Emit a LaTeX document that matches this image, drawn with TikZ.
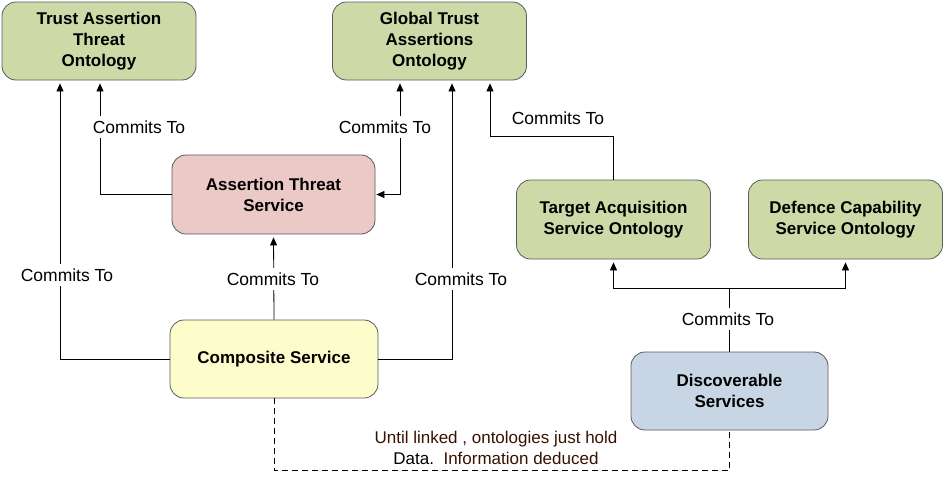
\documentclass[tikz,border=0pt]{standalone}
\usepackage{fontspec}
\setmainfont{Liberation Sans}
\usetikzlibrary{arrows.meta}
\definecolor{ongreen}{RGB}{205,218,168}
\definecolor{onpink}{RGB}{235,201,199}
\definecolor{onyellow}{RGB}{253,253,203}
\definecolor{onblue}{RGB}{200,213,228}
\definecolor{onborder}{RGB}{90,90,90}
\definecolor{notecol}{RGB}{55,18,0}
\tikzset{
  box/.style={draw=onborder, line width=0.8pt, rounded corners=14pt, align=center,
    font=\fontsize{17}{21}\selectfont\bfseries, inner sep=0pt},
  bigbox/.style={box, minimum width=194pt, minimum height=78pt},
  lbl/.style={fill=white, font=\fontsize{17.5}{20}\selectfont, inner xsep=6pt, inner ysep=5pt},
  conn/.style={line width=0.8pt, -{Triangle[length=8pt,width=7pt]}, shorten >=3pt},
  conn2/.style={line width=0.8pt, {Triangle[length=8pt,width=7pt]}-{Triangle[length=8pt,width=7pt]}, shorten >=1pt, shorten <=3pt},
  plain/.style={line width=0.8pt},
}
\begin{document}
\begin{tikzpicture}[x=1pt,y=-1pt]
\useasboundingbox (0,0) rectangle (945,488);
% nodes
\node[bigbox, fill=ongreen] (tat) at (99,41) {Trust Assertion\\Threat\\Ontology};
\node[bigbox, fill=ongreen] (gta) at (429.5,41) {Global Trust\\Assertions\\Ontology};
\node[box, fill=onpink, minimum width=203pt, minimum height=79pt] (ats) at (273.5,194.5) {Assertion Threat\\Service};
\node[bigbox, fill=ongreen, minimum height=79pt] (tas) at (613.5,219.5) {Target Acquisition\\Service Ontology};
\node[bigbox, fill=ongreen, minimum height=79pt] (dcs) at (845.5,219.5) {Defence Capability\\Service Ontology};
\node[box, fill=onyellow, minimum width=208pt, minimum height=78pt] (comp) at (274,359) {Composite Service};
\node[box, fill=onblue, minimum width=197pt, minimum height=78pt] (ds) at (729.5,391) {Discoverable\\Services};
% connectors
\draw[conn] (comp.west) -| ([xshift=-39pt]tat.south);
\draw[conn] (ats.west) -| ([xshift=1pt]tat.south);
\draw[conn2] ([xshift=-29.5pt]gta.south) |- (ats.east);
\draw[conn] (comp.north) -- (ats.south);
\draw[conn] (comp.east) -| ([xshift=22.5pt]gta.south);
\draw[conn] (tas.north) -- ++(0,-43) -| ([xshift=60.5pt]gta.south);
\draw[plain] (ds.north) -- ++(0,-63) coordinate (j);
\draw[conn] (j) -| (tas.south);
\draw[conn] (j) -| (dcs.south);
\draw[plain, dashed, dash pattern=on 6pt off 4pt] (comp.south) -- ++(0,72) -| (ds.south);
% labels
\node[lbl] (l1) at (67,275) {Commits To};
\node[lbl] (l2) at (139,127) {Commits To};
\node[lbl] (l3) at (385,127) {Commits To};
\node[lbl] (l4) at (273,279) {Commits To};
\node[lbl] (l5) at (461,279) {Commits To};
\node[lbl] (l6) at (558,118) {Commits To};
\node[lbl] (l7) at (728,319) {Commits To};
\node[fill=white, align=center, inner sep=1pt, font=\fontsize{17}{21}\selectfont, text=notecol] (note) at (496,448) {Until linked , ontologies just hold\\{\color{black}Data.}\ \ Information deduced};
\end{tikzpicture}
\end{document}
